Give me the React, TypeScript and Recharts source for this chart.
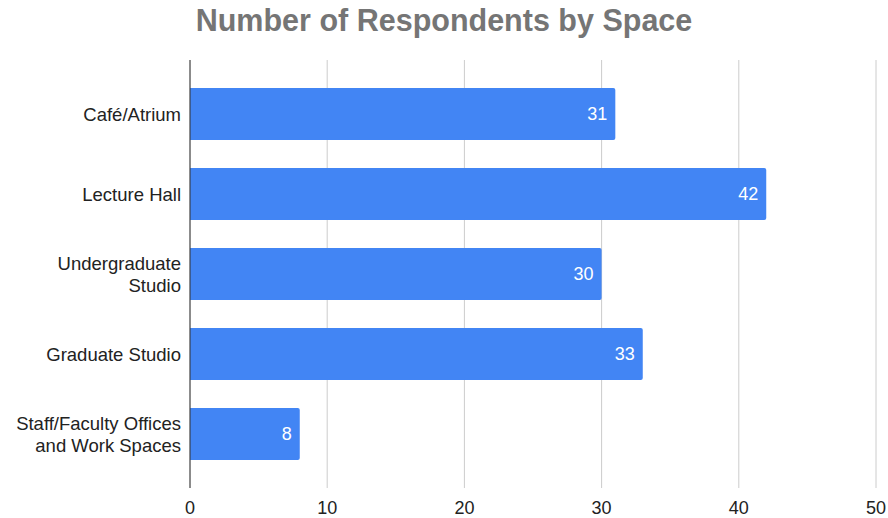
import React from "react";
import { BarChart, Bar, XAxis, YAxis, CartesianGrid, LabelList } from "recharts";

const spaces = [
  "Café/Atrium",
  "Lecture Hall",
  "Undergraduate Studio",
  "Graduate Studio",
  "Staff/Faculty Offices and Work Spaces",
];
const respondents = [31, 42, 30, 33, 8];
const xTicks = [0, 10, 20, 30, 40, 50];

// how each category label is broken into lines
const labelLines: Record<string, string[]> = {
  "Undergraduate Studio": ["Undergraduate", "Studio"],
  "Staff/Faculty Offices and Work Spaces": ["Staff/Faculty Offices", "and Work Spaces"],
};

const chartData = spaces.map((space, i) => ({
  space,
  count: respondents[i],
}));

const FONT = "'Liberation Sans', Arial, sans-serif";

const SpaceTick = (props: any) => {
  const { x, y, payload } = props;
  const lines = labelLines[payload.value] || [payload.value];
  const lineHeight = 22;
  const startY = y - ((lines.length - 1) * lineHeight) / 2;
  return (
    <text x={x} y={startY} textAnchor="end" fill="#222" fontSize={18.5} fontFamily={FONT} dominantBaseline="central">
      {lines.map((line, i) => (
        <tspan key={i} x={x} y={startY + i * lineHeight} dominantBaseline="central">
          {line}
        </tspan>
      ))}
    </text>
  );
};

export default function App() {
  return (
    <div style={{ position: "absolute", left: 0, top: 0, width: 888, height: 518, background: "#fff", fontFamily: FONT }}>
      <div
        style={{
          position: "absolute",
          left: 0,
          top: 3,
          width: 888,
          textAlign: "center",
          fontSize: 30.5,
          fontWeight: "bold",
          color: "#757575",
        }}
      >
        Number of Respondents by Space
      </div>
      <BarChart
        width={888}
        height={518}
        data={chartData}
        layout="vertical"
        margin={{ top: 60, right: 12, bottom: 0, left: 0 }}
      >
        <CartesianGrid horizontal={false} stroke="#cccccc" />
        <XAxis
          type="number"
          domain={[0, 50]}
          ticks={xTicks}
          axisLine={false}
          tickLine={false}
          tickMargin={7}
          height={30}
          tick={{ fill: "#222", fontSize: 18, fontFamily: FONT }}
        />
        <YAxis
          type="category"
          dataKey="space"
          width={190}
          axisLine={{ stroke: "#333" }}
          tickLine={false}
          tickMargin={3}
          padding={{ top: 14, bottom: 14 }}
          tick={<SpaceTick />}
        />
        <Bar dataKey="count" fill="#4285f4" barSize={52} radius={[0, 2, 2, 0]} isAnimationActive={false}>
          <LabelList
            dataKey="count"
            position="insideRight"
            offset={8}
            fill="#ffffff"
            fontSize={18}
            fontFamily={FONT}
          />
        </Bar>
      </BarChart>
    </div>
  );
}
